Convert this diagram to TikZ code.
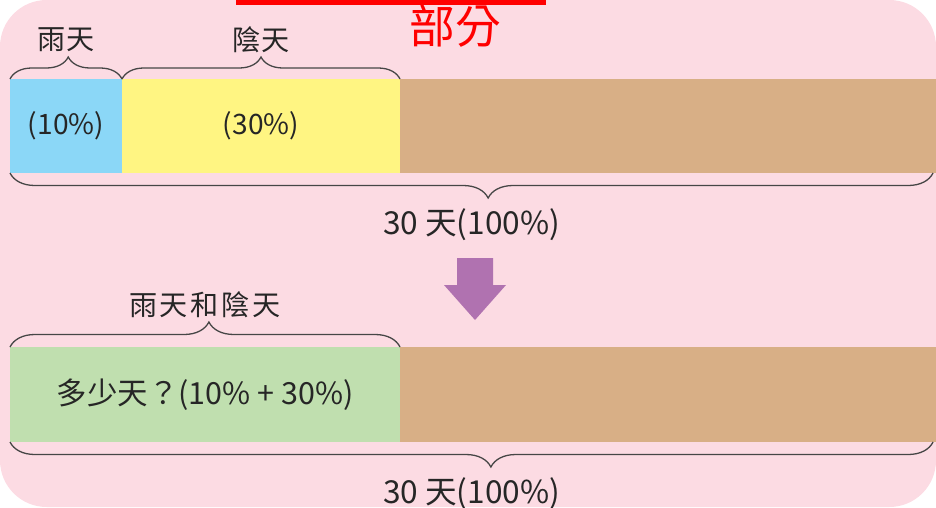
\documentclass[tikz,border=0pt]{standalone}
\usepackage{fontspec}
\setmainfont{Noto Sans CJK TC}
\usetikzlibrary{decorations.pathreplacing}

\definecolor{bgpink}{RGB}{252,219,227}
\definecolor{rainblue}{RGB}{139,215,247}
\definecolor{cloudyellow}{RGB}{255,245,130}
\definecolor{resttan}{RGB}{216,175,134}
\definecolor{bothgreen}{RGB}{192,223,175}
\definecolor{arrowpurple}{RGB}{176,114,176}
\definecolor{bracegray}{RGB}{70,70,70}

\tikzset{
    seg/.style={rectangle, inner sep=0pt, outer sep=0pt, anchor=west,
        font=\fontsize{24}{28}\selectfont, text=black!85},
    brc/.style={decorate, decoration={brace, amplitude=0.75cm, aspect=#1},
        line width=1.1pt, draw=bracegray},
    brc/.default=0.5,
    lbl/.style={font=\fontsize{24}{28}\selectfont, text=black!85},
    totlbl/.style={font=\fontsize{27}{31}\selectfont, text=black!85}
}

\begin{document}
\begin{tikzpicture}[x=0.03cm, y=0.03cm]
    % Fix the page to the picture size
    \useasboundingbox (0,0) rectangle (936,-507);

    % Draw the pink card
    \fill[bgpink, rounded corners=1.4cm] (0,-507) -- (0,0) -- (936,0) -- (936,-507) -- cycle;

    % Draw the red heading
    \fill[red] (236,0) rectangle (546,-5);
    \node[text=red, font=\fontsize{39}{44}\selectfont] (title) at (455,-26) {部分};

    % Draw the first bar
    \node[seg, fill=rainblue, minimum width=3.36cm, minimum height=2.82cm, anchor=north west]
        (rain) at (10,-79) {(10\%)};
    \node[seg, fill=cloudyellow, minimum width=8.34cm, minimum height=2.82cm]
        (cloudy) at (rain.east) {(30\%)};
    \node[seg, fill=resttan, minimum width=16.08cm, minimum height=2.82cm]
        (rest) at (cloudy.east) {};

    % Draw the braces of the first bar
    \draw[brc=0.52, decoration={amplitude=0.66cm}] (rain.north west) -- (rain.north east)
        node[lbl, midway, yshift=1.17cm] (rainlbl) {雨天};
    \draw[brc, decoration={amplitude=0.66cm}] (cloudy.north west) -- (cloudy.north east)
        node[lbl, midway, yshift=1.17cm] (cloudylbl) {陰天};
    \draw[brc=0.482] ([xshift=-0.09cm]rest.south east) -- (rain.south west)
        node[totlbl, midway, yshift=-1.56cm] (totallbl) {30 天(100\%)};

    % Draw the arrow between the bars
    \fill[arrowpurple] (457,-258) -- (493,-258) -- (493,-285) -- (506,-285)
        -- (475,-320) -- (444,-285) -- (457,-285) -- cycle;

    % Draw the second bar
    \node[seg, fill=bothgreen, minimum width=11.7cm, minimum height=2.85cm, anchor=north west,
        font=\fontsize{26}{30}\selectfont]
        (both) at (10,-347) {多少天？(10\% + 30\%)};
    \node[seg, fill=resttan, minimum width=16.08cm, minimum height=2.85cm]
        (rest2) at (both.east) {};

    % Draw the braces of the second bar
    \draw[brc=0.51] (both.north west) -- (both.north east)
        node[lbl, midway, yshift=1.26cm] (bothlbl) {\addfontfeature{LetterSpace=10}雨天和陰天};
    \draw[brc=0.479] ([xshift=-0.09cm]rest2.south east) -- (both.south west)
        node[totlbl, midway, yshift=-1.56cm] (total2lbl) {30 天(100\%)};
\end{tikzpicture}
\end{document}
